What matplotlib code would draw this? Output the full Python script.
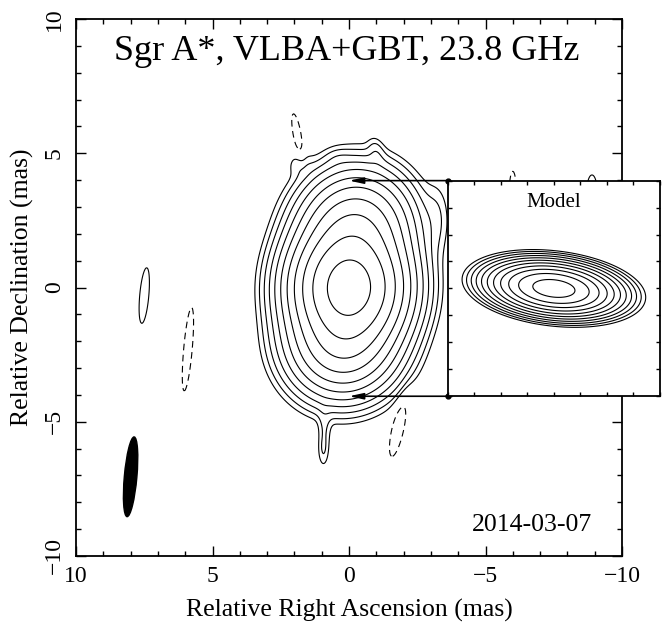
import numpy as np
import matplotlib.pyplot as plt
from matplotlib.ticker import MultipleLocator

plt.rcParams['font.family'] = ['Liberation Serif', 'DejaVu Serif']

# Gaussian components making up the image (RA, Dec in mas; amp relative to core;
# sigma along major / minor axis in mas; position angle deg east of north)
comp_ra = [0.0, -0.2, 0.2, -1.0, 0.9, 0.95, -3.2, 1.8, 0.4, 1.9, -1.8, 5.9, -6.0, 7.5, -8.9]
comp_dec = [0.0, 2.0, -1.9, 5.0, -5.3, -6.1, 2.6, 4.6, 4.8, 5.7, -5.2, -2.3, 3.6, -0.3, 3.6]
comp_amp = [1.0, 0.2, 0.2, 0.0015, 0.0012, 0.0009, 0.0012, 0.0009, 0.0008,
            -0.0013, -0.0013, -0.0012, -0.0012, 0.0012, 0.001]
comp_smaj = [1.0, 1.0, 0.95, 0.35, 0.7, 0.4, 0.8, 0.3, 0.25, 0.7, 1.0, 1.5, 0.7, 1.0, 0.7]
comp_smin = [0.9, 0.9, 0.9, 0.18, 0.15, 0.13, 0.3, 0.3, 0.3, 0.13, 0.2, 0.15, 0.12, 0.16, 0.22]
comp_pa = [0, -12, -12, 10, 0, 0, 0, 0, 0, 10, -12, -5, 0, -5, 0]

# elliptical Gaussian model shown in the inset
model_smaj = 0.91
model_smin = 0.365
model_pa = 83.5

# contour levels as fraction of peak
levels_frac = [-0.000664, 0.000664, 0.00133, 0.00266, 0.0053, 0.0106, 0.0213,
               0.0425, 0.085, 0.17, 0.34, 0.68]

# restoring beam
beam_ra, beam_dec = 8.0, -7.05
beam_maj, beam_min, beam_pa = 2.98, 0.46, -5

# inset box in main-map coordinates
inset_ra = [-3.62, -11.39]
inset_dec = [-4.05, 3.98]

title = 'Sgr A*, VLBA+GBT, 23.8 GHz'
date = '2014-03-07'


def gauss2d(X, Y, x0, y0, amp, smaj, smin, pa):
    t = np.radians(pa)
    u = (X - x0) * np.sin(t) + (Y - y0) * np.cos(t)
    v = (X - x0) * np.cos(t) - (Y - y0) * np.sin(t)
    return amp * np.exp(-0.5 * ((u / smaj) ** 2 + (v / smin) ** 2))


def style_axis(a, major, minor, lmaj, lmin):
    if major:
        a.xaxis.set_major_locator(MultipleLocator(major))
        a.yaxis.set_major_locator(MultipleLocator(major))
    a.xaxis.set_minor_locator(MultipleLocator(minor))
    a.yaxis.set_minor_locator(MultipleLocator(minor))
    a.tick_params(which='both', direction='in', top=True, right=True, width=1.0)
    a.tick_params(which='major', length=lmaj)
    a.tick_params(which='minor', length=lmin)
    for s in a.spines.values():
        s.set_linewidth(1.3)


grid = np.linspace(-12, 12, 721)
RA, DEC = np.meshgrid(grid, grid)
img = np.zeros_like(RA)
for i in range(len(comp_ra)):
    img += gauss2d(RA, DEC, comp_ra[i], comp_dec[i], comp_amp[i],
                   comp_smaj[i], comp_smin[i], comp_pa[i])
img /= img.max()

styles = ['solid' if l > 0 else (0, (6, 4)) for l in levels_frac]

fig = plt.figure(figsize=(6.65, 6.29), dpi=100)
ax = fig.add_axes([76 / 665, 1 - 556 / 629, 546 / 665, 537 / 629])
ax.contour(RA, DEC, img, levels=levels_frac, colors='k', linewidths=0.8,
           linestyles=styles)
ax.set_xlim(10, -10)
ax.set_ylim(-10, 10)
style_axis(ax, 5, 1, 7, 3.6)
ax.tick_params(axis='x', labelsize=17, pad=7)
ax.tick_params(axis='y', labelsize=17, pad=8, labelrotation=90)
for lab in ax.get_yticklabels():
    lab.set_va('center')

beam = plt.matplotlib.patches.Ellipse((beam_ra, beam_dec), beam_min, beam_maj,
                                      angle=-beam_pa, color='k')
ax.add_patch(beam)

ax.text(0.1, 8.8, title, ha='center', va='center', fontsize=26)
ax.text(-8.9, -8.85, date, ha='right', va='center', fontsize=18.5)

ax.set_xlabel('Relative Right Ascension (mas)', fontsize=18.5, va='center')
ax.set_ylabel('Relative Declination (mas)', fontsize=18.5, va='center')
ax.xaxis.set_label_coords(0.5, -(610 - 556) / 537)
ax.yaxis.set_label_coords(-(76 - 22) / 546, 0.5)

# inset with the model
to_fig = fig.transFigure.inverted()
p0 = to_fig.transform(ax.transData.transform((inset_ra[0], inset_dec[0])))
p1 = to_fig.transform(ax.transData.transform((inset_ra[1], inset_dec[1])))
ins = fig.add_axes([p0[0], p0[1], p1[0] - p0[0], p1[1] - p0[1]])
mgrid = np.linspace(-4, 4, 321)
MX, MY = np.meshgrid(mgrid, mgrid)
model = gauss2d(MX, MY, 0, 0, 1.0, model_smaj, model_smin, model_pa)
ins.contour(MX, MY, model, levels=[l for l in levels_frac if l > 0],
            colors='k', linewidths=0.8)
ins.set_xlim(4, -4)
ins.set_ylim(-4, 4)
style_axis(ins, None, 1, 3, 3)
ins.tick_params(which='both', labelbottom=False, labelleft=False)
ins.xaxis.set_major_locator(plt.NullLocator())
ins.yaxis.set_major_locator(plt.NullLocator())
ins.text(0, 3.2, 'Model', ha='center', va='center', fontsize=15)

# arrows from the inset corners to the source
for d in inset_dec:
    ax.annotate('', xy=(0, d), xytext=(inset_ra[0], d),
                arrowprops=dict(arrowstyle='-|>,head_length=0.6,head_width=0.13',
                                color='k', lw=1.2, mutation_scale=14,
                                shrinkA=0, shrinkB=0))
    ax.plot(inset_ra[0], d, 'o', color='k', ms=3.5, clip_on=False, zorder=5)

fig.savefig('out.png', dpi=100)
